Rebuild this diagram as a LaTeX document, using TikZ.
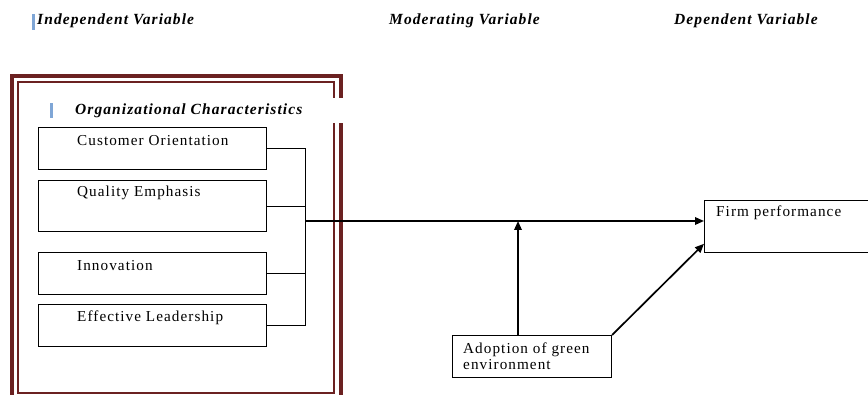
\documentclass[tikz,border=0pt]{standalone}
\usepackage{fontspec}
\setmainfont{Liberation Serif}
\newfontfamily\spacedfont[LetterSpace=7]{Liberation Serif}
\usetikzlibrary{arrows.meta,positioning,calc}
\definecolor{framered}{HTML}{6B2121}
\definecolor{barblue}{HTML}{7FA6D6}
\tikzset{
  vbox/.style={draw,line width=1.1pt,minimum width=228pt,minimum height=42pt,anchor=north west,inner sep=0pt},
  vtext/.style={anchor=west,inner sep=0pt,font=\spacedfont\fontsize{15.2}{16}\selectfont},
  head/.style={anchor=west,inner sep=0pt,font=\spacedfont\fontsize{15.5}{16}\selectfont\bfseries\itshape},
  link/.style={line width=0.9pt},
  arr/.style={-{Triangle[length=9pt,width=7.5pt]},line width=1.7pt}
}
\begin{document}
\begin{tikzpicture}[x=1pt,y=-1pt]
\useasboundingbox (0,0) rectangle (868,395);
\begin{scope}
\clip (0,0) rectangle (868,395);
% double frame round the independent variables
\draw[framered,line width=4pt] (12,76) rectangle (341,402);
\draw[framered,line width=2pt] (18,82) rectangle (334,393);
\fill[white] (327,98) rectangle (347,123);
\end{scope}
% headings
\fill[barblue] (32,14) rectangle (34.5,30);
\node[head] (iv) at (37,21) {Independent Variable};
\node[head] (mv) at (389,21) {Moderating Variable};
\node[head] (dv) at (674,21) {Dependent Variable};
\fill[barblue] (50,103) rectangle (52.5,118);
\node[head] (oc) at (75,111) {Organizational Characteristics};
% variable boxes
\node[vbox] (co) at (38,127) {};
\node[vbox,minimum height=51pt] (qe) at (38,180) {};
\node[vbox] (in) at (38,252) {};
\node[vbox] (el) at (38,304) {};
\node[vtext] at (77,141) {Customer Orientation};
\node[vtext] at (77,193) {Quality Emphasis};
\node[vtext] at (77,266) {Innovation};
\node[vtext] at (77,318) {Effective Leadership};
\node[vbox,minimum width=170pt,minimum height=52pt] (fp) at (704,200) {};
\node[vtext] at (716,213) {Firm performance};
\node[vbox,minimum width=159pt,minimum height=42pt] (ag) at (452,335) {};
\node[vtext,align=left] at (463,356) {Adoption of green\\environment};
% connectors
\coordinate (jn) at (305,221);
\coordinate (mid) at (518,221);
\draw[link] (co.east) -- (co.east -| jn) -- (el.east -| jn) -- (el.east);
\draw[link] (qe.east) -- (qe.east -| jn);
\draw[link] (in.east) -- (in.east -| jn);
\draw[arr] (jn) -- (jn -| fp.west);
\draw[arr] (ag.north -| mid) -- (mid);
\draw[arr] (ag.north east) -- ($(fp.west)!0.65!(fp.south west)$);
\end{tikzpicture}
\end{document}
